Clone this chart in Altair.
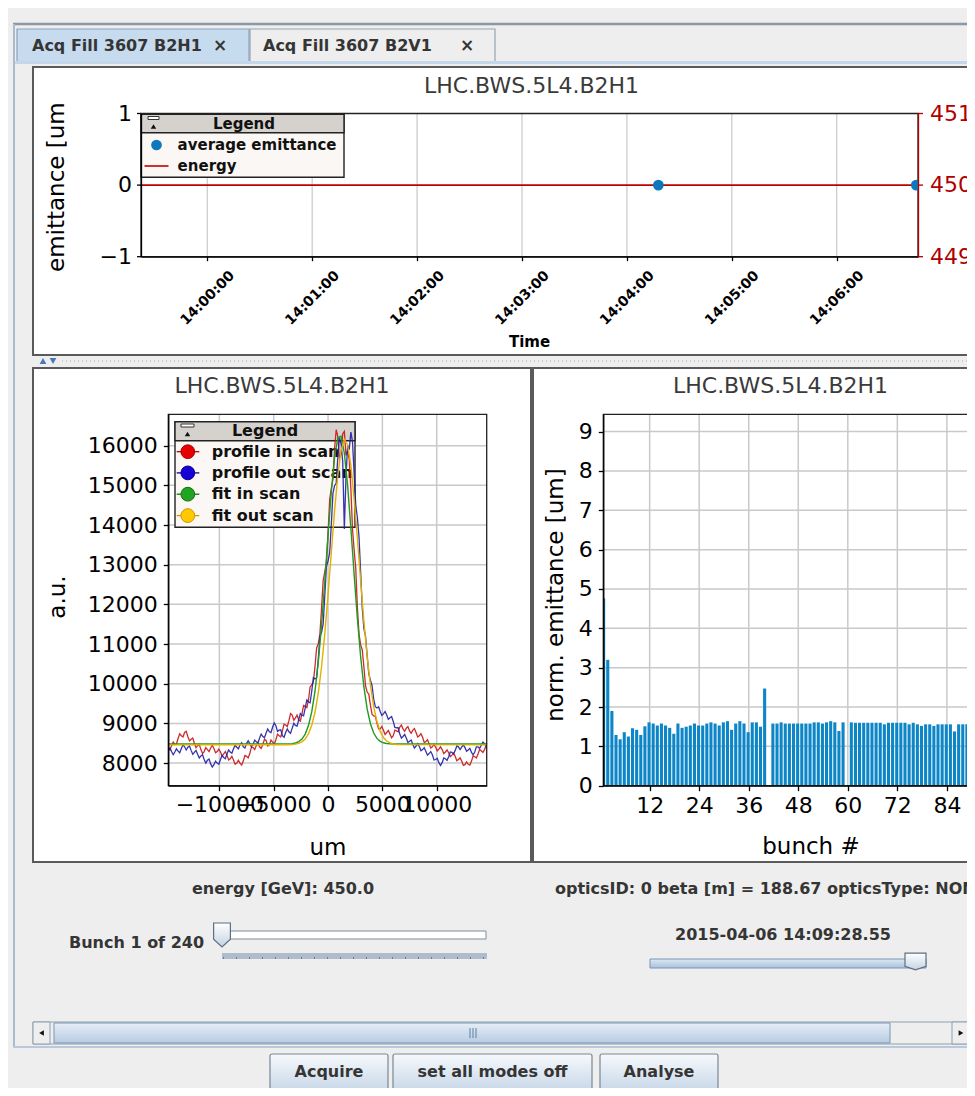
import altair as alt
import pandas as pd

FONT = "DejaVu Sans"
PAGE = 8            # page margin of the html page
W, H = 959, 1080    # canvas size


def p(v):
    """reference-image pixel -> canvas pixel"""
    return v - PAGE


# =============================== DATA ===============================
# --- top panel: average emittance / energy versus time
EMIT_TIME = ["2015-04-06T14:04:18.000", "2015-04-06T14:06:45.500"]
EMIT_VALUE = [0.0, 0.0]
ENERGY_TIME = ["2015-04-06T13:59:22.100", "2015-04-06T14:06:46.500"]
ENERGY_GEV = [450.0, 450.0]
TIME_TICKS = ["2015-04-06T14:00:00", "2015-04-06T14:01:00", "2015-04-06T14:02:00",
              "2015-04-06T14:03:00", "2015-04-06T14:04:00", "2015-04-06T14:05:00",
              "2015-04-06T14:06:00"]
TIME_TICK_MIN = [0, 1, 2, 3, 4, 5, 6]
T_START, T_END = "2015-04-06T13:59:22.100", "2015-04-06T14:06:46.500"
EMIT_DOM = [-1, 1]
EMIT_TICKS = [-1, 0, 1]
ENERGY_DOM = [449, 451]
ENERGY_TICKS = [449, 450, 451]

# --- bottom-left panel: wire-scanner profiles and fits
PROFILE_UM = [-14700, -14400, -14100, -13800, -13500, -13200, -12900, -12600, -12300, -12000,
              -11700, -11400, -11100, -10800, -10500, -10200, -9900, -9600, -9300, -9000,
              -8700, -8400, -8100, -7800, -7500, -7200, -6900, -6600, -6300, -6000,
              -5700, -5400, -5100, -4800, -4500, -4200, -3900, -3600, -3300, -3000,
              -2700, -2400, -2100, -1800, -1500, -1200, -900, -600, -300, 0,
              300, 600, 900, 1200, 1500, 1800, 2100, 2400, 2700, 3000,
              3300, 3600, 3900, 4200, 4500, 4800, 5100, 5400, 5700, 6000,
              6300, 6600, 6900, 7200, 7500, 7800, 8100, 8400, 8700, 9000,
              9300, 9600, 9900, 10200, 10500, 10800, 11100, 11400, 11700, 12000,
              12300, 12600, 12900, 13200, 13500, 13800, 14100, 14400, 14600]
PROFILE_IN = [8370, 8440, 8470, 8620, 8690, 8770, 8670, 8600, 8500, 8440,
              8340, 8290, 8340, 8380, 8370, 8290, 8280, 8230, 8200, 8110,
              8080, 8000, 8000, 8050, 8170, 8240, 8390, 8440, 8410, 8470,
              8570, 8460, 8530, 8590, 8690, 8810, 8960, 9070, 9210, 9140,
              9090, 9240, 9430, 9590, 9970, 10440, 11010, 11880, 12820, 13780,
              14920, 15930, 16230, 15780, 16360, 15880, 14920, 13380, 11920, 10980,
              10420, 9790, 9460, 9190, 9010, 8860, 8830, 8770, 8730, 8690,
              8810, 8910, 8860, 8880, 8810, 8830, 8770, 8690, 8650, 8540,
              8490, 8410, 8400, 8350, 8340, 8280, 8260, 8200, 8170, 8090,
              8050, 7960, 7970, 8050, 8160, 8230, 8310, 8340, 8380]
PROFILE_OUT = [8330, 8290, 8280, 8300, 8370, 8410, 8400, 8320, 8270, 8220,
               8180, 8090, 8070, 7980, 7960, 8000, 8090, 8140, 8230, 8280,
               8360, 8400, 8460, 8410, 8490, 8490, 8470, 8540, 8630, 8670,
               8760, 8790, 8910, 8940, 8830, 8690, 8770, 8790, 8880, 8950,
               9090, 9210, 9390, 9540, 9810, 10120, 10610, 11290, 12210, 13090,
               14010, 14990, 15710, 16040, 13900, 16010, 16340, 15310, 14190, 12810,
               11390, 10710, 10090, 9610, 9390, 9300, 9240, 9210, 9140, 9050,
               8890, 8730, 8670, 8630, 8550, 8470, 8430, 8420, 8340, 8300,
               8240, 8210, 8090, 8010, 8010, 8110, 8160, 8270, 8320, 8410,
               8400, 8390, 8330, 8270, 8280, 8410, 8450, 8490, 8500]
# intermediate samples (the scans are noisy)
PROFILE_UM_MID = [-14550, -14250, -13950, -13650, -13350, -13050, -12750, -12450, -12150, -11850,
                  -11550, -11250, -10950, -10650, -10350, -10050, -9750, -9450, -9150, -8850,
                  -8550, -8250, -7950, -7650, -7350, -7050, -6750, -6450, -6150, -5850,
                  -5550, -5250, -4950, -4650, -4350, -4050, -3750, -3450, -3150, -2850,
                  -2550, -2250, -1950, -1650, -1350, -1050, -750, -450, -150, 150,
                  450, 750, 1050, 1350, 1650, 1950, 2250, 2550, 2850, 3150,
                  3450, 3750, 4050, 4350, 4650, 4950, 5250, 5550, 5850, 6150,
                  6450, 6750, 7050, 7350, 7650, 7950, 8250, 8550, 8850, 9150,
                  9450, 9750, 10050, 10350, 10650, 10950, 11250, 11550, 11850, 12150,
                  12450, 12750, 13050, 13350, 13650, 13950, 14250, 14500]
PROFILE_IN_MID = [8330, 8530, 8480, 8740, 8660, 8800, 8560, 8630, 8390, 8470,
                  8240, 8390, 8290, 8450, 8260, 8350, 8180, 8290, 8080, 8170,
                  7970, 8070, 7950, 8190, 8130, 8400, 8340, 8510, 8370, 8600,
                  8430, 8580, 8480, 8730, 8660, 8980, 8920, 9250, 9080, 9210,
                  9060, 9450, 9400, 9920, 10050, 10900, 11250, 12600, 13050, 14650,
                  15150, 16400, 15700, 16300, 15750, 15650, 13900, 12900, 11250, 10850,
                  9950, 9740, 9230, 9180, 8860, 8920, 8720, 8820, 8640, 8830,
                  8790, 8960, 8800, 8920, 8750, 8870, 8660, 8740, 8520, 8590,
                  8380, 8470, 8310, 8410, 8240, 8330, 8160, 8250, 8060, 8130,
                  7940, 8030, 7950, 8180, 8130, 8340, 8270, 8410]
PROFILE_OUT_MID = [8380, 8210, 8360, 8260, 8460, 8330, 8430, 8220, 8320, 8130,
                   8210, 8000, 8100, 7900, 8050, 7970, 8190, 8110, 8330, 8250,
                   8450, 8360, 8510, 8380, 8560, 8410, 8580, 8510, 8730, 8640,
                   8860, 8770, 9010, 8800, 8840, 8650, 8860, 8750, 9000, 8930,
                   9250, 9190, 9590, 9520, 10150, 10150, 11200, 11500, 12950, 13300,
                   14800, 15050, 16200, 15600, 15200, 15900, 16100, 14500, 13700, 11900,
                   11200, 10250, 9950, 9420, 9420, 9200, 9300, 9100, 9170, 8900,
                   8890, 8630, 8720, 8520, 8580, 8380, 8490, 8310, 8390, 8200,
                   8290, 8080, 8120, 7940, 8130, 8070, 8280, 8230, 8430, 8340,
                   8460, 8300, 8370, 8210, 8410, 8370, 8530, 8440]
FIT_UM = [-14700, -3600, -3300, -3000, -2700, -2400, -2100, -1800, -1500, -1200,
          -900, -600, -300, 0, 300, 600, 900, 1200, 1500, 1800,
          2100, 2400, 2700, 3000, 3300, 3600, 3900, 4200, 4500, 4800,
          5100, 5400, 5700, 6000, 6300, 6600, 14600]
FIT_IN = [8480, 8484, 8491, 8507, 8540, 8606, 8730, 8944, 9290, 9811,
          10538, 11472, 12569, 13736, 14833, 15702, 16199, 16239, 15814, 14998,
          13928, 12762, 11645, 10680, 9918, 9364, 8991, 8758, 8622, 8548,
          8511, 8493, 8486, 8482, 8481, 8480, 8480]
FIT_OUT = [8460, 8463, 8467, 8477, 8497, 8536, 8609, 8739, 8951, 9281,
           9764, 10421, 11257, 12242, 13309, 14356, 15255, 15886, 16155, 16019,
           15501, 14678, 13667, 12594, 11572, 10681, 9963, 9424, 9047, 8798,
           8645, 8556, 8507, 8482, 8470, 8465, 8460]
PROF_X_DOM = [-14700, 14600]
PROF_Y_DOM = [7430, 16790]
PROF_X_TICKS = [-10000, -5000, 0, 5000, 10000]
PROF_Y_TICKS = [8000, 9000, 10000, 11000, 12000, 13000, 14000, 15000, 16000]

# --- bottom-right panel: normalised emittance per bunch (None = no data)
BUNCH = list(range(1, 90))
NORM_EMITTANCE = [4.76, 3.2, 1.9, 1.29, 1.18, 1.36, 1.25, 1.46, 1.42, 1.29,
                  1.51, 1.61, 1.58, 1.53, 1.58, 1.53, 1.47, 1.32, 1.58, 1.47,
                  1.5, 1.53, 1.58, 1.53, 1.53, 1.58, 1.61, 1.58, 1.53, 1.61,
                  1.64, 1.42, 1.58, 1.64, 1.58, 1.36, 1.61, 1.61, 1.5, 2.47,
                  None, 1.58, 1.58, 1.61, 1.58, 1.58, 1.58, 1.58, 1.58, 1.58,
                  1.58, 1.61, 1.61, 1.58, 1.61, 1.64, 1.61, 1.39, 1.61, None,
                  1.61, 1.6, 1.6, 1.6, 1.6, 1.6, 1.6, 1.6, 1.56, 1.6,
                  1.6, 1.6, 1.6, 1.6, 1.56, 1.6, 1.56, 1.52, 1.56, 1.56,
                  1.52, 1.56, 1.56, 1.56, 1.56, 1.38, 1.56, 1.56, 1.56]
BAR_X_DOM = [0.77, 89.6]
BAR_Y_DOM = [0, 9.44]
BUNCH_TICKS = [12, 24, 36, 48, 60, 72, 84]
EMITT_TICKS = [0, 1, 2, 3, 4, 5, 6, 7, 8, 9]

# ============================ LAYOUT =============================
T_XR = [p(141), p(918)]
T_YR = [p(256.7), p(113.5)]
P_XR = [p(168.3), p(486.7)]
P_YR = [p(785.7), p(414.3)]
B_XR = [p(603.3), p(970)]
B_YR = P_YR

GRID = "#c9c9c9"
ONE = alt.Data(values=[{"k": 0}])


def dt(h, m, s=0, ms=0):
    return alt.DateTime(year=2015, month=4, date=6, hours=h, minutes=m,
                        seconds=s, milliseconds=ms)


T_DOM = [dt(13, 59, 22, 100), dt(14, 6, 46, 500)]


def lin(dom, rng):
    return alt.Scale(domain=dom, range=rng, nice=False, zero=False)


def tsc():
    return alt.Scale(domain=T_DOM, range=T_XR, nice=False)


def axis(orient, offset, values, fmt=None, color="#000000", size=22, tick=5, pad=6, **extra):
    kw = dict(orient=orient, offset=offset, values=values, title=None, grid=False, zindex=1,
              domainColor=color, tickColor=color, labelColor=color, labelFont=FONT,
              labelFontSize=size, tickSize=tick, labelPadding=pad, labelOverlap=False,
              labelFlush=False, domainWidth=1.3, tickWidth=1.3)
    if fmt:
        kw["format"] = fmt
    kw.update(extra)
    return alt.Axis(**kw)


# ---------- decoration helpers (GUI chrome, pixel positions) ----------
def box(x1, y1, x2, y2, fill="#ffffff", stroke=None, sw=1.0, radius=0, fill_opacity=1.0):
    kw = dict(fill=fill, fillOpacity=fill_opacity, cornerRadius=radius)
    if stroke:
        kw.update(stroke=stroke, strokeWidth=sw)
    return alt.Chart(ONE).mark_rect(**kw).encode(
        x=alt.value(p(x1)), x2=alt.value(p(x2)), y=alt.value(p(y1)), y2=alt.value(p(y2)))


def seg(x1, y1, x2, y2, color, width=1.0, dash=None):
    kw = dict(color=color, strokeWidth=width)
    if dash:
        kw["strokeDash"] = dash
    return alt.Chart(ONE).mark_rule(**kw).encode(
        x=alt.value(p(x1)), x2=alt.value(p(x2)), y=alt.value(p(y1)), y2=alt.value(p(y2)))


def txt(x, y, text, size=16, weight="bold", align="center", color="#353535", angle=0):
    kw = dict(text=text, font=FONT, fontSize=size, fontWeight=weight, align=align,
              baseline="middle", color=color)
    if angle:
        kw["angle"] = angle
    return alt.Chart(ONE).mark_text(**kw).encode(x=alt.value(p(x)), y=alt.value(p(y)))


def sym(x, y, shape, size, fill, stroke=None, sw=1.0):
    kw = dict(shape=shape, size=size, fill=fill, filled=True, opacity=1)
    if stroke:
        kw.update(stroke=stroke, strokeWidth=sw)
    return alt.Chart(ONE).mark_point(**kw).encode(x=alt.value(p(x)), y=alt.value(p(y)))


def vgrad(top, bottom):
    return alt.LinearGradient(gradient="linear", x1=0, x2=0, y1=0, y2=1,
                              stops=[alt.GradientStop(color=top, offset=0),
                                     alt.GradientStop(color=bottom, offset=1)])


def yticks_layer(values, dom, rng, x_axis, side, color):
    """tick marks + labels of a vertical axis, positioned through the y scale"""
    df = pd.DataFrame({"v": values})
    if side == "left":
        tx1, tx2, lx, al = x_axis - 4, x_axis, x_axis - 9, "right"
    else:
        tx1, tx2, lx, al = x_axis, x_axis + 5, x_axis + 12, "left"
    ticks = alt.Chart(df).mark_rule(color=color, strokeWidth=1.3).encode(
        x=alt.value(p(tx1)), x2=alt.value(p(tx2)),
        y=alt.Y("v:Q", scale=lin(dom, rng), axis=None))
    labels = alt.Chart(df).mark_text(font=FONT, fontSize=22, color=color, align=al,
                                     baseline="middle").encode(
        x=alt.value(p(lx)),
        y=alt.Y("v:Q", scale=lin(dom, rng), axis=None),
        text=alt.Text("v:Q", format="d"))
    return [ticks, labels]


layers = []

# ---------------------------- window chrome ----------------------------
layers += [
    seg(13, 24, 985, 24, "#8a97a5", 2.5),
    box(250, 29, 495, 61.5, fill="#eeeeee", stroke="#97a4b1", sw=1.2),
    box(17, 29, 249, 63, fill="#c7dbef", stroke="#8ca2b9", sw=1.2),
    seg(13, 62.5, 985, 62.5, "#c3d6ea", 3),
    seg(14, 24, 14, 1047, "#a9bccf", 2),
    txt(32, 46, "Acq Fill 3607 B2H1", align="left"),
    txt(220, 46, "×", size=17),
    txt(263, 46, "Acq Fill 3607 B2V1", align="left"),
    txt(467, 46, "×", size=17),
    # panels
    box(33, 67, 995, 355, fill="#ffffff", stroke="#5a5a5a", sw=2),
    seg(62, 361, 985, 361, "#9fb0c2", 1, dash=[1, 3]),
    sym(43, 361, "triangle-up", 45, "#4a78b8"),
    sym(53, 361, "triangle-down", 45, "#4a78b8"),
    box(33, 368, 531, 862, fill="#ffffff", stroke="#5a5a5a", sw=2),
    box(533, 368, 995, 862, fill="#ffffff", stroke="#5a5a5a", sw=2),
    seg(13, 1047, 985, 1047, "#b9c9db", 2),
]

# ---------------------------- controls ----------------------------
layers += [
    txt(283, 889, "energy [GeV]: 450.0"),
    txt(555, 889, "opticsID: 0 beta [m] = 188.67 opticsType: NOMINAL", align="left"),
    txt(69, 943, "Bunch 1 of 240", align="left"),
    box(222, 931, 486, 939, fill="#ffffff", stroke="#7f8e9c", sw=1),
    box(222, 953, 487, 959, fill="#aebccb"),
    seg(223, 958, 487, 958, "#6c7d8f", 2, dash=[1, 12]),
    sym(222, 935, "M-0.7,-1 L0.7,-1 L0.7,0.35 L0,1 L-0.7,0.35 Z", 576, vgrad("#ffffff", "#c3d3e3"), "#5d6f82", 1.2),
    txt(783, 935, "2015-04-06 14:09:28.55"),
    box(650, 959, 926, 968, fill=vgrad("#dce8f4", "#a9c2dc"), stroke="#7b95b2", sw=1),
    sym(915.5, 961.5, "M-1,-0.8 L1,-0.8 L1,0.45 L0,0.8 L-1,0.45 Z", 441, vgrad("#ffffff", "#c3d3e3"), "#5d6f82", 1.2),
    # horizontal scrollbar
    box(33, 1022, 970, 1044, fill="#eeeeee", stroke="#8e9eae", sw=1),
    box(33, 1022, 50, 1044, fill="#eeeeee", stroke="#8e9eae", sw=1),
    sym(41.5, 1033, "triangle-left", 30, "#111111"),
    box(54, 1023, 890, 1043, fill=vgrad("#e6eef7", "#b6cbe2"), stroke="#7b95b2", sw=1),
    seg(470, 1028, 470, 1038, "#5f7d9e", 1),
    seg(473, 1028, 473, 1038, "#5f7d9e", 1),
    seg(476, 1028, 476, 1038, "#5f7d9e", 1),
    box(952, 1022, 970, 1044, fill="#eeeeee", stroke="#8e9eae", sw=1),
    sym(961, 1033, "triangle-right", 30, "#111111"),
    # buttons
    box(270, 1054, 388, 1090, fill=vgrad("#f6f9fc", "#c9d8e8"), stroke="#7a8897", sw=1.2, radius=2),
    box(393, 1054, 592, 1090, fill=vgrad("#f6f9fc", "#c9d8e8"), stroke="#7a8897", sw=1.2, radius=2),
    box(600, 1054, 718, 1090, fill=vgrad("#f6f9fc", "#c9d8e8"), stroke="#7a8897", sw=1.2, radius=2),
    txt(329, 1072, "Acquire"),
    txt(492.5, 1072, "set all modes off"),
    txt(659, 1072, "Analyse"),
]

# ---------------------------- top plot ----------------------------
time_axis = axis("bottom", p(256.7) - H, [dt(14, m) for m in TIME_TICK_MIN], "%H:%M:%S",
                 size=14, tick=4, pad=37, labelAngle=315, labelAlign="center",
                 labelBaseline="middle", labelFontWeight="bold")

layers += [
    alt.Chart(pd.DataFrame({"t": TIME_TICKS})).mark_rule(color=GRID, strokeWidth=1.2).encode(
        x=alt.X("t:T", scale=tsc(), axis=None),
        y=alt.YDatum(EMIT_DOM[0], type="quantitative", scale=lin(EMIT_DOM, T_YR), axis=None),
        y2=alt.Y2Datum(EMIT_DOM[1])),
    alt.Chart(pd.DataFrame({"t": ENERGY_TIME, "gev": ENERGY_GEV})).mark_line(
        color="#c00000", strokeWidth=1.6).encode(
        x=alt.X("t:T", scale=tsc(), axis=None),
        y=alt.Y("gev:Q", scale=lin(ENERGY_DOM, T_YR),
                axis=axis("right", p(918) - W, ENERGY_TICKS, "d", color="#b00000",
                          labels=False, ticks=False))),
    alt.Chart(pd.DataFrame({"t0": [T_START], "t1": [T_END]})).mark_rect(
        fillOpacity=0, stroke="#222222", strokeWidth=1.3).encode(
        x=alt.X("t0:T", scale=tsc(), axis=None), x2="t1:T",
        y=alt.YDatum(EMIT_DOM[0], type="quantitative", scale=lin(EMIT_DOM, T_YR), axis=None),
        y2=alt.Y2Datum(EMIT_DOM[1])),
    alt.Chart(pd.DataFrame({"t": EMIT_TIME, "v": EMIT_VALUE})).mark_circle(
        size=115, color="#0e77bd", opacity=1).encode(
        x=alt.X("t:T", scale=tsc(), axis=time_axis),
        y=alt.Y("v:Q", scale=lin(EMIT_DOM, T_YR),
                axis=axis("left", -p(141), EMIT_TICKS, "d", labels=False, ticks=False))),
    box(919, 176, 927, 195, fill="#ffffff"),
]
layers += yticks_layer(EMIT_TICKS, EMIT_DOM, T_YR, 141, "left", "#000000")
layers += yticks_layer(ENERGY_TICKS, ENERGY_DOM, T_YR, 918, "right", "#b00000")
layers += [
    # legend
    box(141, 114.3, 344, 177.3, fill="#fbf7f4", stroke="#222222", sw=1.4),
    box(141, 114.3, 344, 132.7, fill="#d5d2cd", stroke="#222222", sw=1.4),
    box(148, 116.5, 159, 119.5, fill="#ffffff", stroke="#333333", sw=1),
    sym(153.5, 126.5, "triangle-up", 30, "#111111"),
    txt(244, 124, "Legend", size=15, color="#111111"),
    sym(156.5, 145, "circle", 115, "#0e77bd"),
    txt(177.6, 145, "average emittance", size=15, color="#111111", align="left"),
    seg(144.5, 166, 168.5, 166, "#c00000", 1.6),
    txt(177.6, 166, "energy", size=15, color="#111111", align="left"),
]

# ---------------------------- profile plot ----------------------------
prof_x = lambda ax=None: alt.X("um:Q", scale=lin(PROF_X_DOM, P_XR), axis=ax)
prof_y = lambda ax=None: alt.Y("v:Q", scale=lin(PROF_Y_DOM, P_YR), axis=ax)


def prof_df(*pairs):
    rows = []
    for xs, ys in pairs:
        rows += [{"um": a, "v": b} for a, b in zip(xs, ys)]
    return pd.DataFrame(rows).sort_values("um")


layers += [
    alt.Chart(pd.DataFrame({"g": PROF_X_TICKS})).mark_rule(color=GRID, strokeWidth=1.5).encode(
        x=alt.X("g:Q", scale=lin(PROF_X_DOM, P_XR), axis=None),
        y=alt.YDatum(PROF_Y_DOM[0], type="quantitative", scale=lin(PROF_Y_DOM, P_YR), axis=None),
        y2=alt.Y2Datum(PROF_Y_DOM[1])),
    alt.Chart(pd.DataFrame({"g": PROF_Y_TICKS})).mark_rule(color=GRID, strokeWidth=1.5).encode(
        y=alt.Y("g:Q", scale=lin(PROF_Y_DOM, P_YR), axis=None),
        x=alt.XDatum(PROF_X_DOM[0], type="quantitative", scale=lin(PROF_X_DOM, P_XR), axis=None),
        x2=alt.X2Datum(PROF_X_DOM[1])),
    # legend (drawn beneath the curves, as in the original)
    box(175, 421.7, 355, 527.3, fill="#fbf7f4", stroke="#222222", sw=1.4),
    box(175, 421.7, 355, 440.7, fill="#d5d2cd", stroke="#222222", sw=1.4),
    box(181, 424, 194, 427, fill="#ffffff", stroke="#333333", sw=1),
    sym(187.5, 434, "triangle-up", 30, "#111111"),
    txt(265, 431, "Legend", size=16, color="#111111"),
]
for yy, name, fill, edge in [(451.7, "profile in scan", "#e60000", "#b00000"),
                             (472.9, "profile out scan", "#1400d4", "#0c0090"),
                             (494.2, "fit in scan", "#1fa51f", "#137013"),
                             (515.6, "fit out scan", "#ffc800", "#c99a00")]:
    layers += [seg(176.7, yy, 199.3, yy, edge, 1.3),
               sym(187.8, yy, "circle", 190, fill, edge, 1),
               txt(211.7, yy, name, size=16, color="#111111", align="left")]

layers += [
    alt.Chart(prof_df((PROFILE_UM, PROFILE_IN), (PROFILE_UM_MID, PROFILE_IN_MID))).mark_line(
        color="#c81414", strokeWidth=1.3, opacity=0.9).encode(
        x=prof_x(axis("bottom", p(785.7) - H, PROF_X_TICKS, "d", pad=4)),
        y=prof_y(axis("left", -p(168.3), PROF_Y_TICKS, "d"))),
    alt.Chart(prof_df((PROFILE_UM, PROFILE_OUT), (PROFILE_UM_MID, PROFILE_OUT_MID))).mark_line(
        color="#1e1ea6", strokeWidth=1.3, opacity=0.9).encode(x=prof_x(), y=prof_y()),
    alt.Chart(prof_df((FIT_UM, FIT_IN))).mark_line(color="#1f9a1f", strokeWidth=1.4).encode(
        x=prof_x(), y=prof_y()),
    alt.Chart(prof_df((FIT_UM, FIT_OUT))).mark_line(color="#e2b000", strokeWidth=1.4).encode(
        x=prof_x(), y=prof_y()),
    alt.Chart(ONE).mark_rect(fillOpacity=0, stroke="#222222", strokeWidth=1.3).encode(
        x=alt.XDatum(PROF_X_DOM[0], type="quantitative", scale=lin(PROF_X_DOM, P_XR), axis=None),
        x2=alt.X2Datum(PROF_X_DOM[1]),
        y=alt.YDatum(PROF_Y_DOM[0], type="quantitative", scale=lin(PROF_Y_DOM, P_YR), axis=None),
        y2=alt.Y2Datum(PROF_Y_DOM[1])),
]

# ---------------------------- bunch emittance plot ----------------------------
layers += [
    alt.Chart(pd.DataFrame({"g": BUNCH_TICKS})).mark_rule(color=GRID, strokeWidth=1.5).encode(
        x=alt.X("g:Q", scale=lin(BAR_X_DOM, B_XR), axis=None),
        y=alt.YDatum(BAR_Y_DOM[0], type="quantitative", scale=lin(BAR_Y_DOM, B_YR), axis=None),
        y2=alt.Y2Datum(BAR_Y_DOM[1])),
    alt.Chart(pd.DataFrame({"g": EMITT_TICKS[1:]})).mark_rule(color=GRID, strokeWidth=1.5).encode(
        y=alt.Y("g:Q", scale=lin(BAR_Y_DOM, B_YR), axis=None),
        x=alt.XDatum(BAR_X_DOM[0], type="quantitative", scale=lin(BAR_X_DOM, B_XR), axis=None),
        x2=alt.X2Datum(BAR_X_DOM[1])),
    alt.Chart(pd.DataFrame({"bunch": BUNCH, "e": NORM_EMITTANCE}))
    .transform_filter("isValid(datum.e) && isFinite(datum.e)")
    .transform_calculate(x0=f"max(datum.bunch - 0.525, {BAR_X_DOM[0]})", x1="datum.bunch + 0.225")
    .mark_rect(color="#0d86c8").encode(
        x=alt.X("x0:Q", scale=lin(BAR_X_DOM, B_XR),
                axis=axis("bottom", p(785.7) - H, BUNCH_TICKS, "d", pad=5)),
        x2="x1:Q",
        y=alt.Y("e:Q", scale=lin(BAR_Y_DOM, B_YR), axis=axis("left", -p(603.3), EMITT_TICKS, "d")),
        y2=alt.Y2Datum(0)),
    alt.Chart(ONE).mark_rect(fillOpacity=0, stroke="#222222", strokeWidth=1.3).encode(
        x=alt.XDatum(BAR_X_DOM[0], type="quantitative", scale=lin(BAR_X_DOM, B_XR), axis=None),
        x2=alt.X2Datum(BAR_X_DOM[1]),
        y=alt.YDatum(BAR_Y_DOM[0], type="quantitative", scale=lin(BAR_Y_DOM, B_YR), axis=None),
        y2=alt.Y2Datum(BAR_Y_DOM[1])),
]

# ---------------------------- titles ----------------------------
layers += [
    txt(531.5, 86, "LHC.BWS.5L4.B2H1", size=22, weight="normal", color="#3a3a3a"),
    txt(282, 386, "LHC.BWS.5L4.B2H1", size=22, weight="normal", color="#3a3a3a"),
    txt(780.5, 386, "LHC.BWS.5L4.B2H1", size=22, weight="normal", color="#3a3a3a"),
    txt(57, 272, "emittance [um", size=23, weight="normal", color="#000000", angle=270, align="left"),
    txt(529.5, 342, "Time", size=15, color="#000000"),
    txt(57.5, 597, "a.u.", size=23, weight="normal", color="#000000", angle=270),
    txt(328, 848, "um", size=23, weight="normal", color="#000000"),
    txt(556, 595, "norm. emittance [um]", size=23, weight="normal", color="#000000", angle=270),
    txt(811, 847, "bunch #", size=23, weight="normal", color="#000000"),
]

chart = (
    alt.layer(*layers)
    .resolve_scale(x="independent", y="independent")
    .resolve_axis(x="independent", y="independent")
    .properties(width=W, height=H, padding=0, autosize=alt.AutoSizeParams(type="none"))
    .configure(background="#eeeeee")
    .configure_view(strokeWidth=0)
)

chart.save("out.html", embed_options={"renderer": "svg", "actions": False})
